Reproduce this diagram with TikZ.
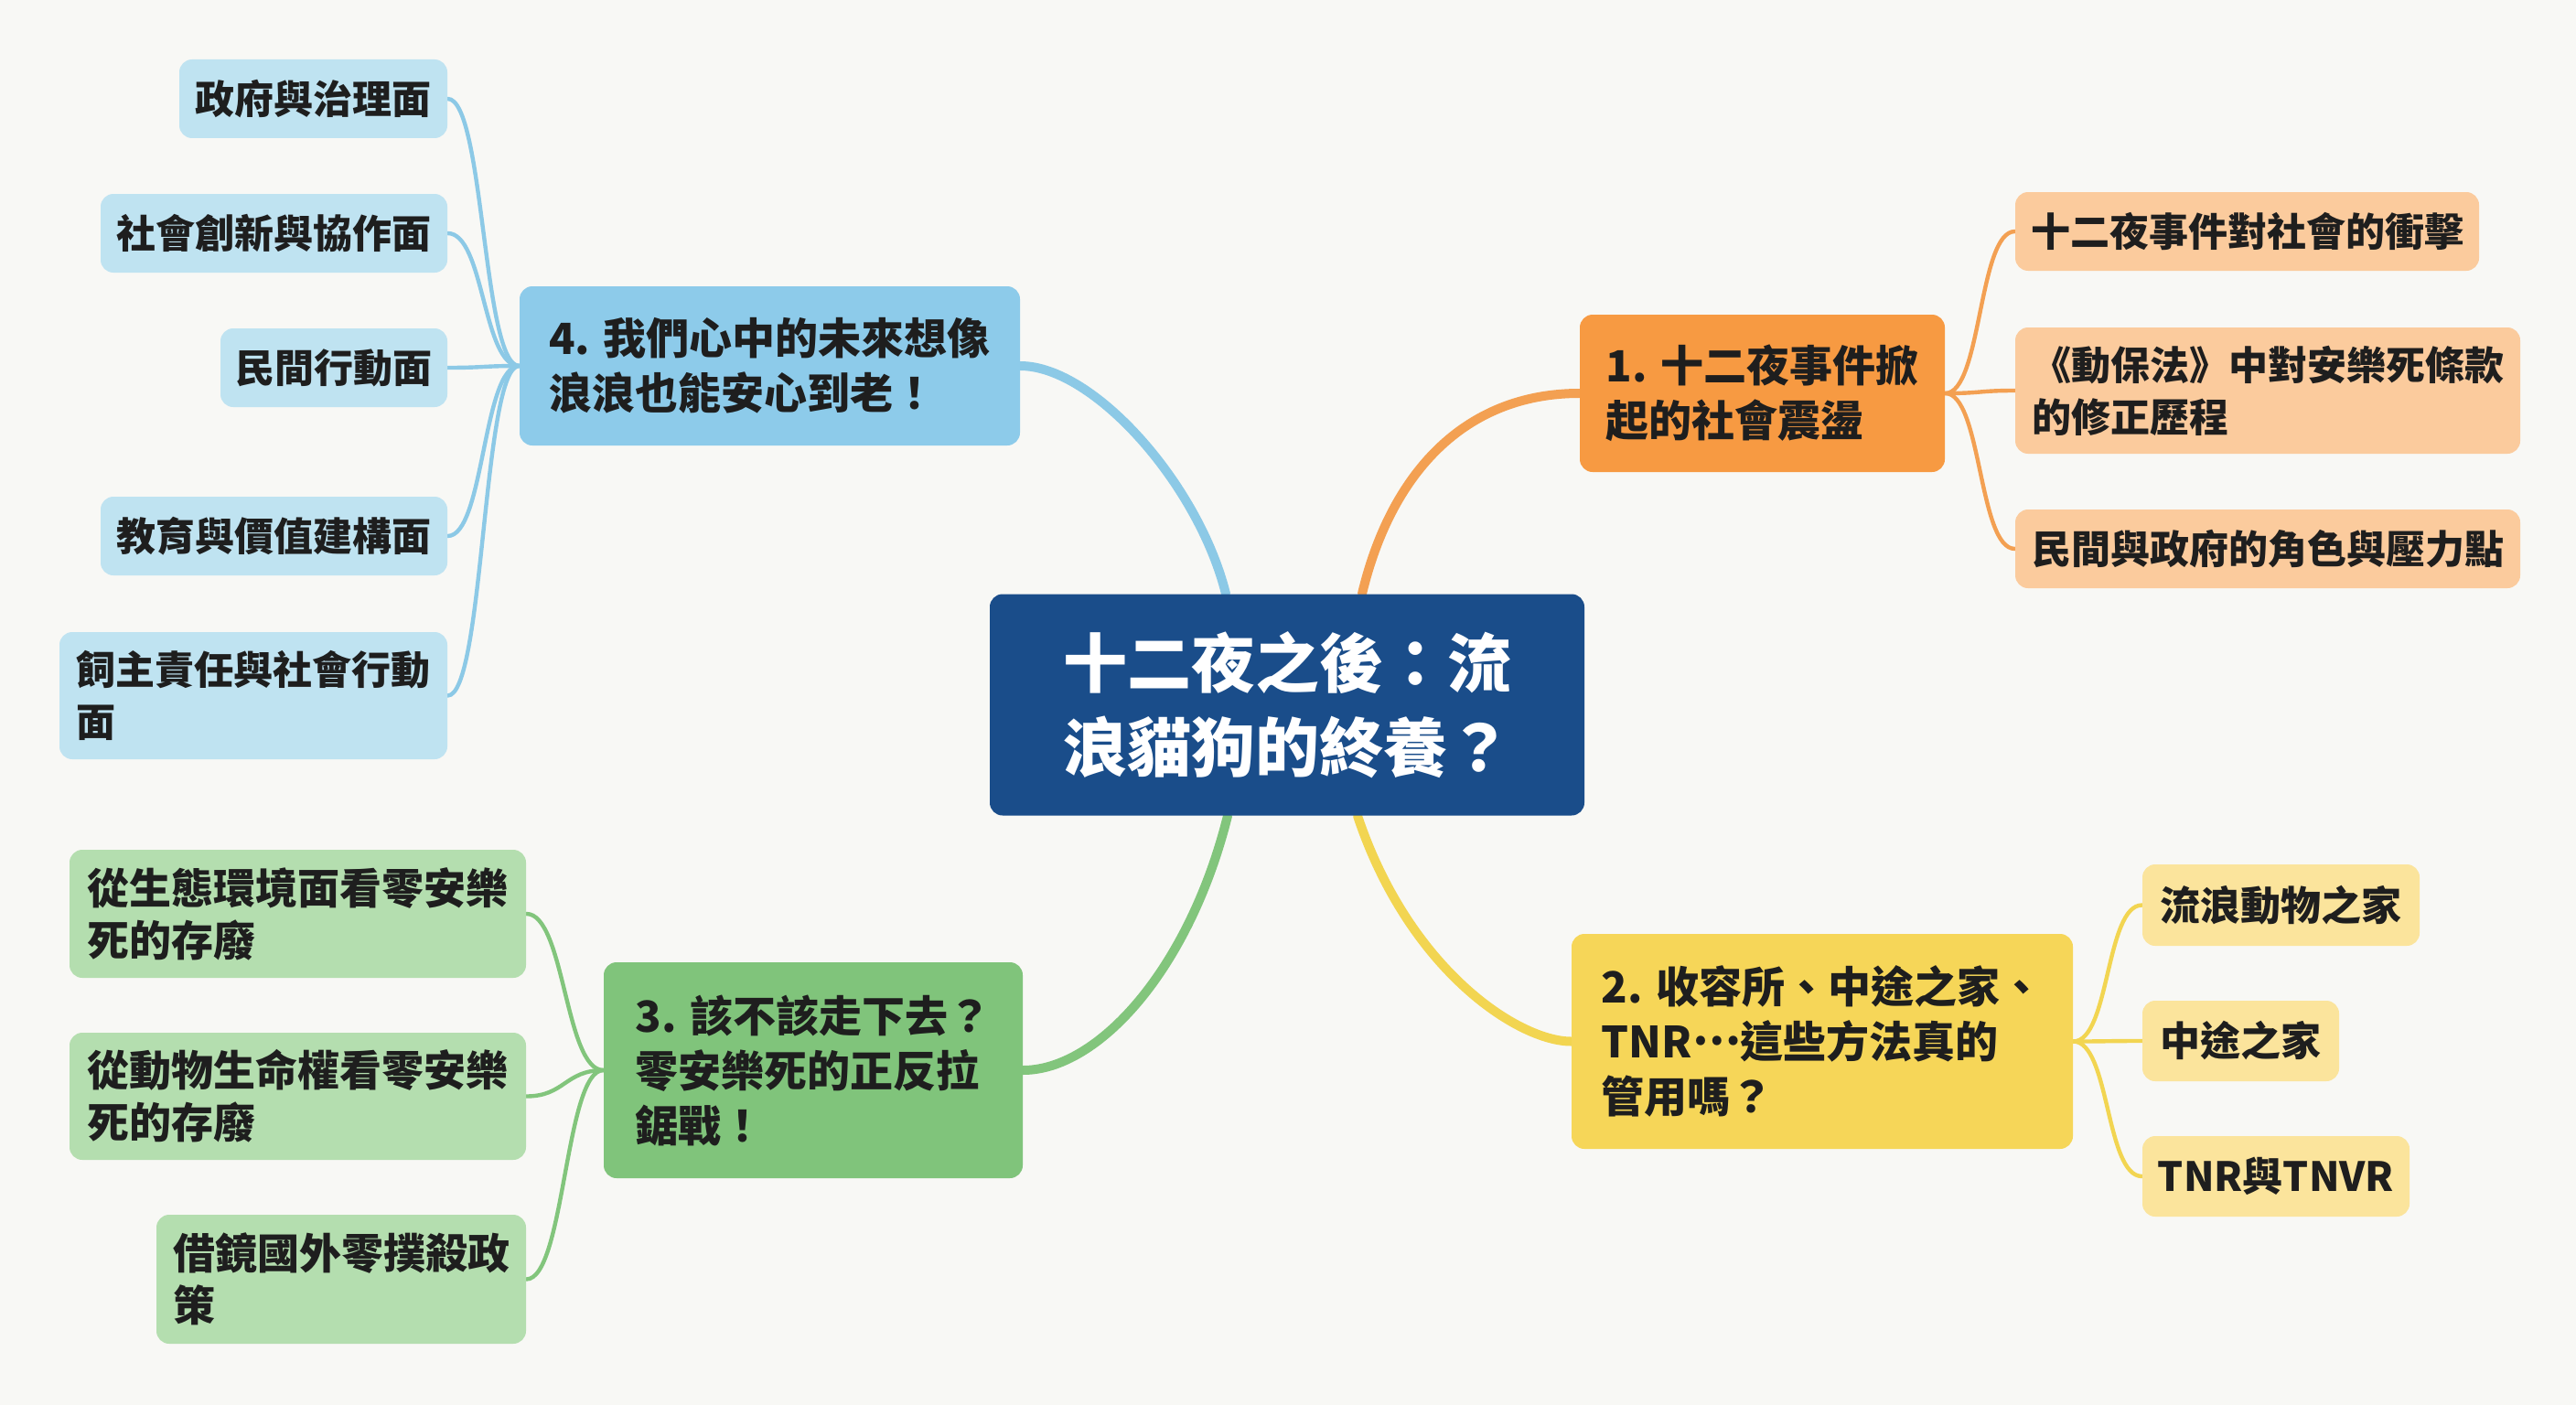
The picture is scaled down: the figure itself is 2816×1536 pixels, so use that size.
\documentclass[tikz,border=0pt]{standalone}
\usepackage{fontspec}
\setmainfont{Noto Sans CJK TC}
\usetikzlibrary{calc,backgrounds}
\definecolor{bg}{HTML}{F8F8F5}
\definecolor{txt}{HTML}{1E1E1E}
\definecolor{cen}{HTML}{1A4D8A}
\definecolor{mblue}{HTML}{8DCBEA}
\definecolor{lblue}{HTML}{BFE3F1}
\definecolor{kblue}{HTML}{8CC9E6}
\definecolor{morange}{HTML}{F79A42}
\definecolor{lorange}{HTML}{FBCB9D}
\definecolor{korange}{HTML}{F3A052}
\definecolor{myellow}{HTML}{F6D658}
\definecolor{lyellow}{HTML}{FBE49C}
\definecolor{kyellow}{HTML}{F2D551}
\definecolor{mgreen}{HTML}{80C47B}
\definecolor{lgreen}{HTML}{B4DEAF}
\definecolor{kgreen}{HTML}{82C57C}
\begin{document}
\begin{tikzpicture}[x=0.5pt,y=-0.5pt,
  box/.style={rounded corners=7pt, inner sep=0pt, align=left, text=txt},
  cfont/.style={font={\fontsize{35pt}{46pt}\selectfont\bfseries}},
  mfont/.style={font={\fontsize{23.5pt}{30pt}\selectfont\bfseries}},
  sfont/.style={font={\fontsize{21.5pt}{28.5pt}\selectfont\bfseries}},
  yfont/.style={font={\fontsize{22pt}{28.5pt}\selectfont\bfseries}},
  gfont/.style={font={\fontsize{23pt}{28.5pt}\selectfont\bfseries}},
  mainline/.style={line width=5pt, line cap=round},
  subline/.style={line width=2.2pt, line cap=round}]
\useasboundingbox (0,0) rectangle (2816,1536);
% central
\node[box, cfont, fill=cen, text=white, align=center, minimum width=325pt, minimum height=121pt] (c) at (1407,770.5) {十二夜之後：流\\浪貓狗的終養？};
% main topics
\node[box, mfont, fill=mblue, minimum width=273.5pt, minimum height=87pt] (n4) at (841.5,400) {4. 我們心中的未來想像\\浪浪也能安心到老！};
\node[box, mfont, fill=morange, minimum width=199.5pt, minimum height=86pt] (n1) at (1926.5,430) {1. 十二夜事件掀\\起的社會震盪};
\node[box, mfont, fill=myellow, minimum width=274pt, minimum height=117.5pt] (n2) at (1992,1138.5) {2. 收容所、中途之家、\\TNR\raisebox{0.3em}{…}這些方法真的\\管用嗎？};
\node[box, mfont, fill=mgreen, minimum width=229pt, minimum height=118pt] (n3) at (889,1170) {3. 該不該走下去？\\零安樂死的正反拉\\鋸戰！};
% blue children
\node[box, sfont, fill=lblue, minimum width=146.5pt, minimum height=43pt] (b1) at (342.5,108) {政府與治理面};
\node[box, sfont, fill=lblue, minimum width=189.5pt, minimum height=43pt] (b2) at (299.5,255) {社會創新與協作面};
\node[box, sfont, fill=lblue, minimum width=124pt, minimum height=43pt] (b3) at (365,402) {民間行動面};
\node[box, sfont, fill=lblue, minimum width=189.5pt, minimum height=43pt] (b4) at (299.5,586) {教育與價值建構面};
\node[box, sfont, fill=lblue, minimum width=212pt, minimum height=69.5pt] (b5) at (277,760.5) {飼主責任與社會行動\\面};
% orange children
\node[box, sfont, fill=lorange, minimum width=253.5pt, minimum height=43pt] (o1) at (2456.5,253) {十二夜事件對社會的衝擊};
\node[box, sfont, fill=lorange, minimum width=276pt, minimum height=69pt] (o2) at (2479,427) {《動保法》中對安樂死條款\\的修正歷程};
\node[box, sfont, fill=lorange, minimum width=276pt, minimum height=43pt] (o3) at (2479,600) {民間與政府的角色與壓力點};
% yellow children
\node[box, yfont, fill=lyellow, minimum width=151.5pt, minimum height=44.5pt] (y1) at (2493.5,989.5) {流浪動物之家};
\node[box, yfont, fill=lyellow, minimum width=107.5pt, minimum height=44pt] (y2) at (2449.5,1138) {中途之家};
\node[box, yfont, fill=lyellow, minimum width=146pt, minimum height=44pt] (y3) at (2488,1286) {TNR與TNVR};
% green children
\node[box, gfont, fill=lgreen, minimum width=249.5pt, minimum height=70pt] (g1) at (325.5,999) {從生態環境面看零安樂\\死的存廢};
\node[box, gfont, fill=lgreen, minimum width=249.5pt, minimum height=69.5pt] (g2) at (325.5,1198.5) {從動物生命權看零安樂\\死的存廢};
\node[box, gfont, fill=lgreen, minimum width=202pt, minimum height=70.5pt] (g3) at (373,1398.5) {借鏡國外零撲殺政\\策};
% connectors
\begin{pgfonlayer}{background}
\fill[bg] (0,0) rectangle (2816,1536);
\draw[mainline, kblue] ($(c.north)+(-67,0)$) .. controls +(-30,-120) and +(80,0) .. (n4.east);
\draw[mainline, korange] ($(c.north)+(82,0)$) .. controls +(31,-130) and +(-127,0) .. (n1.west);
\draw[mainline, kyellow] ($(c.south)+(77,0)$) .. controls +(56,168) and +(-58,0) .. (n2.west);
\draw[mainline, kgreen] ($(c.south)+(-65,0)$) .. controls +(-42,168) and +(82,0) .. (n3.east);
\foreach \t in {b1,b2,b3,b4,b5}
  \draw[subline, kblue] (n4.west) .. controls +(-40,0) and +(40,0) .. (\t.east);
\foreach \t in {o1,o2,o3}
  \draw[subline, korange] (n1.east) .. controls +(40,0) and +(-40,0) .. (\t.west);
\foreach \t in {y1,y2,y3}
  \draw[subline, kyellow] (n2.east) .. controls +(40,0) and +(-40,0) .. (\t.west);
\foreach \t in {g1,g2,g3}
  \draw[subline, kgreen] (n3.west) .. controls +(-42,0) and +(42,0) .. (\t.east);
\end{pgfonlayer}
\end{tikzpicture}
\end{document}
